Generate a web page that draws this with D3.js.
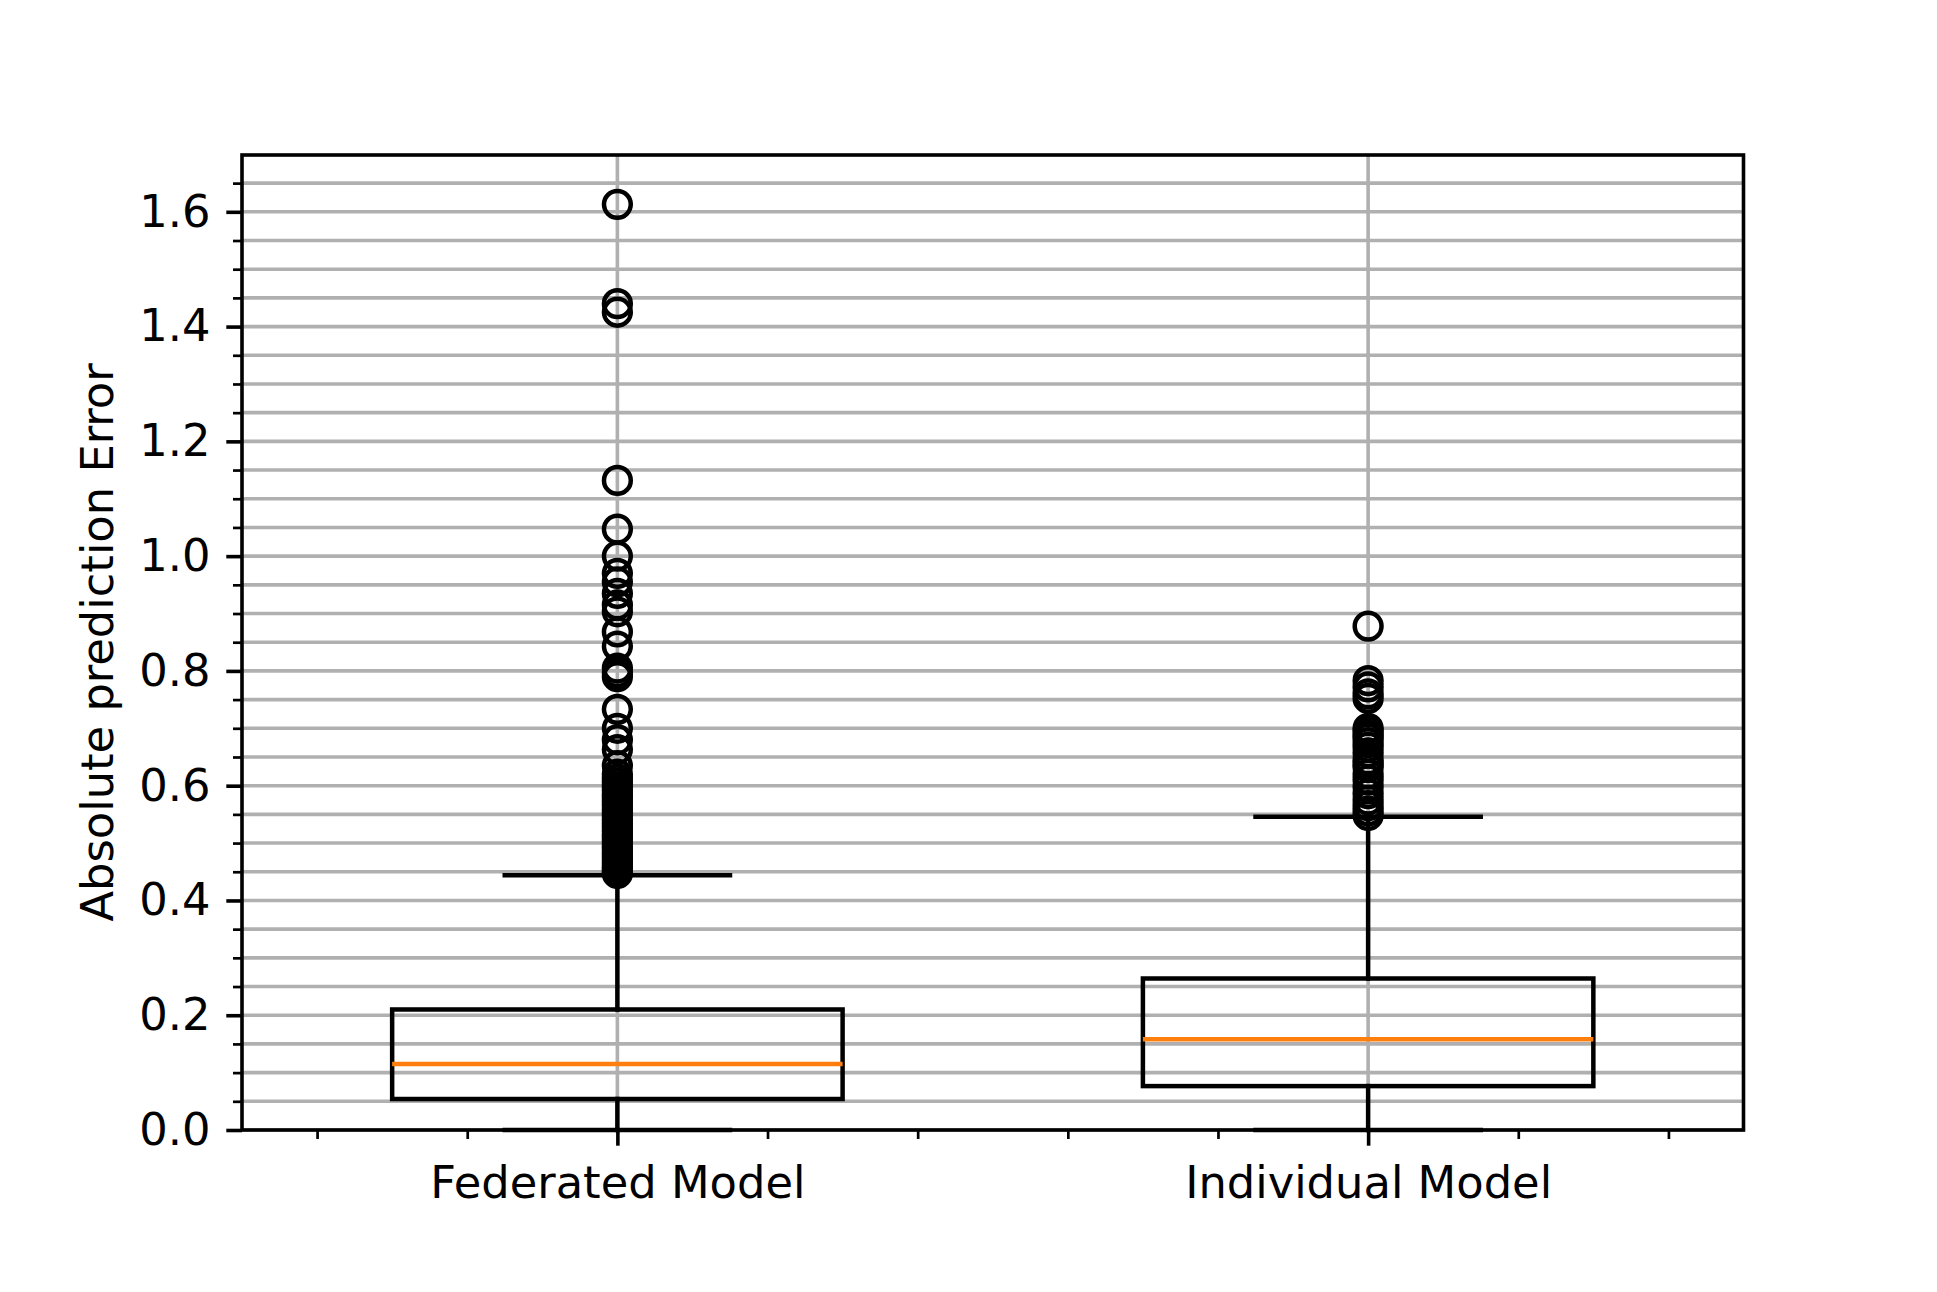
<!DOCTYPE html>
<html><head><meta charset="utf-8">
<script src="https://cdn.jsdelivr.net/npm/d3@7"></script>
<style>body{margin:0;background:#fff} text{font-family:"DejaVu Sans",sans-serif}</style>
</head><body><svg id="c" width="1937" height="1292"></svg>
<script>
// ---- data ----
const categories = ["Federated Model", "Individual Model"];
const q1 = [0.054, 0.0765];
const medians = [0.115, 0.158];
const q3 = [0.21, 0.264];
const whiskerLow = [0, 0];
const whiskerHigh = [0.444, 0.546];
const fedOutliers = [1.613, 1.44, 1.425, 1.132, 1.047, 1.0, 0.97, 0.955, 0.935, 0.915, 0.903,
  0.868, 0.843, 0.805, 0.797, 0.79, 0.733, 0.70, 0.68, 0.663, 0.635, 0.62, 0.612, 0.605,
  0.598, 0.592, 0.585, 0.579, 0.572, 0.566, 0.559, 0.553, 0.547, 0.54, 0.534, 0.528, 0.521,
  0.515, 0.509, 0.502, 0.496, 0.49, 0.484, 0.478, 0.472, 0.466, 0.46, 0.455, 0.45, 0.447];
const indOutliers = [0.878, 0.783, 0.772, 0.76, 0.752, 0.70, 0.695, 0.688, 0.683, 0.675, 0.667,
  0.657, 0.645, 0.638, 0.632, 0.62, 0.61, 0.598, 0.586, 0.575, 0.565, 0.556, 0.548];
const outliers = [fedOutliers, indOutliers];
const yMajorTicks = [0, 0.2, 0.4, 0.6, 0.8, 1.0, 1.2, 1.4, 1.6];
const yMinorTicks = [0.05,0.1,0.15,0.25,0.3,0.35,0.45,0.5,0.55,0.65,0.7,0.75,0.85,0.9,0.95,
  1.05,1.1,1.15,1.25,1.3,1.35,1.45,1.5,1.55,1.65];
const xMinorTicks = [0.6, 0.8, 1.2, 1.4, 1.6, 1.8, 2.2, 2.4];
const yLabel = "Absolute prediction Error";

// ---- layout ----
const L = 242, R = 1743.5, T = 155, B = 1130;
const fs = 44.8, lw = 4.5, spineW = 3.6;
const svg = d3.select("#c");
const x = d3.scaleLinear().domain([0.5, 2.5]).range([L, R]);
const y = d3.scaleLinear().domain([0, 1.699]).range([B, T]);
const positions = [1, 2];
const boxHalf = 0.3, capHalf = 0.15;

// grid
const g = svg.append("g");
const allY = yMajorTicks.concat(yMinorTicks);
g.selectAll("line.hg").data(allY).join("line")
  .attr("x1", L).attr("x2", R).attr("y1", d => y(d)).attr("y2", d => y(d))
  .attr("stroke", "#b0b0b0").attr("stroke-width", 3.6);
g.selectAll("line.vg").data(positions).join("line")
  .attr("x1", d => x(d)).attr("x2", d => x(d)).attr("y1", T).attr("y2", B)
  .attr("stroke", "#b0b0b0").attr("stroke-width", 3.6);

// boxes
const bx = svg.append("g");
positions.forEach((p, i) => {
  const line = (x1, y1, x2, y2, col) => bx.append("line")
    .attr("x1", x1).attr("y1", y1).attr("x2", x2).attr("y2", y2)
    .attr("stroke", col || "#000").attr("stroke-width", lw).attr("stroke-linecap", "square");
  // whiskers
  line(x(p), y(q1[i]), x(p), y(whiskerLow[i]));
  line(x(p), y(q3[i]), x(p), y(whiskerHigh[i]));
  // caps
  line(x(p - capHalf), y(whiskerLow[i]), x(p + capHalf), y(whiskerLow[i]));
  line(x(p - capHalf), y(whiskerHigh[i]), x(p + capHalf), y(whiskerHigh[i]));
  // box
  bx.append("rect").attr("x", x(p - boxHalf)).attr("y", y(q3[i]))
    .attr("width", x(p + boxHalf) - x(p - boxHalf)).attr("height", y(q1[i]) - y(q3[i]))
    .attr("fill", "none").attr("stroke", "#000").attr("stroke-width", lw);
  // median
  bx.append("line").attr("x1", x(p - boxHalf)).attr("x2", x(p + boxHalf))
    .attr("y1", y(medians[i])).attr("y2", y(medians[i]))
    .attr("stroke", "#ff7f0e").attr("stroke-width", lw);
  // fliers
  bx.selectAll(null).data(outliers[i]).join("circle")
    .attr("cx", x(p)).attr("cy", d => y(d)).attr("r", 13.4)
    .attr("fill", "none").attr("stroke", "#000").attr("stroke-width", lw);
});

// axes
const yAxis = d3.axisLeft(y).tickValues(yMajorTicks).tickSize(15.7).tickPadding(15.7)
  .tickFormat(d3.format(".1f"));
const yAx = svg.append("g").attr("transform", `translate(${L},0)`).call(yAxis);
const yMin = svg.append("g").attr("transform", `translate(${L},0)`)
  .call(d3.axisLeft(y).tickValues(yMinorTicks).tickSize(9).tickFormat(""));
const xAxis = d3.axisBottom(x).tickValues(positions).tickSize(15.7).tickPadding(20)
  .tickFormat(d => categories[d - 1]);
const xAx = svg.append("g").attr("transform", `translate(0,${B})`).call(xAxis);
const xMin = svg.append("g").attr("transform", `translate(0,${B})`)
  .call(d3.axisBottom(x).tickValues(xMinorTicks).tickSize(9).tickFormat(""));
[yAx, xAx].forEach(a => {
  a.select(".domain").remove();
  a.selectAll(".tick line").attr("stroke", "#000").attr("stroke-width", 3.6);
  a.selectAll(".tick text").attr("fill", "#000").style("font-size", fs + "px")
    .style("font-family", '"DejaVu Sans", sans-serif');
});
[yMin, xMin].forEach(a => {
  a.select(".domain").remove();
  a.selectAll(".tick line").attr("stroke", "#000").attr("stroke-width", 2.7);
});

// spines
svg.append("rect").attr("x", L).attr("y", T).attr("width", R - L).attr("height", B - T)
  .attr("fill", "none").attr("stroke", "#000").attr("stroke-width", spineW);

// y label
svg.append("text").attr("transform", `translate(113,${(T + B) / 2}) rotate(-90)`)
  .attr("text-anchor", "middle").style("font-size", fs + "px").attr("fill", "#000")
  .text(yLabel);
</script></body></html>
